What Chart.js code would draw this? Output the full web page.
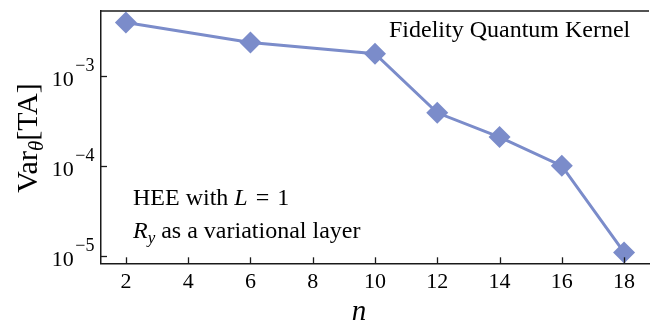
<!DOCTYPE html>
<html>
<head>
<meta charset="utf-8">
<script src="https://cdn.jsdelivr.net/npm/chart.js@4/dist/chart.umd.min.js"></script>
<style>
  html, body { margin: 0; padding: 0; overflow: hidden; background: #fff; }
  #wrap { width: 650px; height: 324px; overflow: hidden; }
  canvas { display: block; }
</style>
</head>
<body>
<div id="wrap"><canvas id="lineChart" width="660" height="324"></canvas></div>
<script>
// data
var nValues = [2, 6, 10, 12, 14, 16, 18];
var variance = [3.94e-3, 2.36e-3, 1.77e-3, 3.89e-4, 2.09e-4, 1.0e-4, 1.09e-5];
var xTicks = [2, 4, 6, 8, 10, 12, 14, 16, 18];
var yTicks = [1e-5, 1e-4, 1e-3];
var yExponents = ['\u22125', '\u22124', '\u22123'];

var serif = '"Liberation Serif", "Times New Roman", serif';
var lineColor = '#7b8cca';
var spineColor = '#1a1a1a';

//draw a row of text pieces, each with its own font and vertical shift
function drawRuns(ctx, x, y, runs) {
    runs.forEach(function(r) {
        ctx.font = r.font;
        ctx.fillText(r.text, x, y + (r.dy || 0));
        x += ctx.measureText(r.text).width;
    });
}

var decorPlugin = {
    id: 'decor',
    afterDraw: function(chart) {
        var ctx = chart.ctx;
        var area = chart.chartArea;
        var xs = chart.scales.x;
        var ys = chart.scales.y;
        ctx.save();
        ctx.strokeStyle = spineColor;
        ctx.lineWidth = 1.5;
        // top spine (the right one is cut off in the original)
        ctx.beginPath();
        ctx.moveTo(area.left, area.top);
        ctx.lineTo(area.right, area.top);
        ctx.stroke();
        // inward tick marks
        ctx.lineWidth = 1.3;
        xTicks.forEach(function(v) {
            var px = Math.round(xs.getPixelForValue(v)) + 0.5;
            ctx.beginPath();
            ctx.moveTo(px, area.bottom);
            ctx.lineTo(px, area.bottom - 6);
            ctx.stroke();
        });
        yTicks.forEach(function(v, i) {
            var py = Math.round(ys.getPixelForValue(v)) + 0.5;
            ctx.beginPath();
            ctx.moveTo(area.left, py);
            ctx.lineTo(area.left + 6, py);
            ctx.stroke();
            // label 10^k
            ctx.fillStyle = '#000';
            ctx.textAlign = 'left';
            ctx.textBaseline = 'alphabetic';
            ctx.font = '18px ' + serif;
            var supW = ctx.measureText(yExponents[i]).width;
            ctx.font = '22px ' + serif;
            var baseW = ctx.measureText('10').width;
            var right = area.left - 6.5;
            var x0 = right - supW - 1.5 - baseW;
            ctx.fillText('10', x0, py + 9.5);
            ctx.font = '18px ' + serif;
            ctx.fillText(yExponents[i], x0 + baseW + 1.5, py - 6);
        });

        ctx.fillStyle = '#000';
        ctx.textAlign = 'left';
        ctx.textBaseline = 'alphabetic';
        // axis titles
        ctx.font = 'italic 29px ' + serif;
        ctx.textAlign = 'center';
        ctx.fillText('n', 359, 320);
        ctx.textAlign = 'left';

        ctx.save();
        ctx.translate(37, 138);
        ctx.rotate(-Math.PI / 2);
        var runs = [
            {text: 'Var', font: '30px ' + serif},
            {text: '\u03B8', font: 'italic 21px ' + serif, dy: 6},
            {text: '[TA]', font: '30px ' + serif}
        ];
        var total = 0;
        runs.forEach(function(r) { ctx.font = r.font; total += ctx.measureText(r.text).width; });
        drawRuns(ctx, -total / 2, 0, runs);
        ctx.restore();

        // annotations
        drawRuns(ctx, 389, 37.3, [{text: 'Fidelity Quantum Kernel', font: '24px ' + serif}]);
        drawRuns(ctx, 133, 205, [
            {text: 'HEE with ', font: '24px ' + serif},
            {text: 'L', font: 'italic 24px ' + serif},
            {text: ' \u200A=\u200A 1', font: '24px ' + serif}
        ]);
        drawRuns(ctx, 133, 238, [
            {text: 'R', font: 'italic 24px ' + serif},
            {text: 'y', font: 'italic 17px ' + serif, dy: 5},
            {text: ' as a variational layer', font: '24px ' + serif}
        ]);
        ctx.restore();
    }
};

var points = nValues.map(function(n, i) { return {x: n, y: variance[i]}; });

var chart = new Chart(document.getElementById('lineChart').getContext('2d'), {
    type: 'line',
    data: {
        datasets: [{
            data: points,
            borderColor: lineColor,
            backgroundColor: lineColor,
            borderWidth: 3,
            pointStyle: 'rectRot',
            pointRadius: 11,
            pointBorderWidth: 0,
            pointBackgroundColor: lineColor,
            tension: 0
        }]
    },
    options: {
        responsive: false,
        animation: false,
        layout: { padding: { top: 9.7, right: 7.2, left: 0, bottom: 0 } },
        plugins: { legend: { display: false }, tooltip: { enabled: false } },
        scales: {
            x: {
                type: 'linear',
                min: 1.2,
                max: 18.8,
                afterBuildTicks: function(scale) {
                    scale.ticks = xTicks.map(function(v) { return {value: v}; });
                },
                afterFit: function(scale) { scale.height = 60.7; },
                grid: { display: false, drawTicks: false },
                border: { display: true, color: spineColor, width: 1.5 },
                ticks: {
                    color: '#000',
                    font: { family: serif, size: 22 },
                    padding: 6,
                    maxRotation: 0,
                    autoSkip: false
                }
            },
            y: {
                type: 'logarithmic',
                min: 8.24e-6,
                max: 5.28e-3,
                afterBuildTicks: function(scale) {
                    scale.ticks = yTicks.map(function(v) { return {value: v}; });
                },
                afterFit: function(scale) { scale.width = 101; },
                grid: { display: false, drawTicks: false },
                border: { display: true, color: spineColor, width: 1.5 },
                ticks: { display: false }
            }
        }
    },
    plugins: [decorPlugin]
});
</script>
</body>
</html>
